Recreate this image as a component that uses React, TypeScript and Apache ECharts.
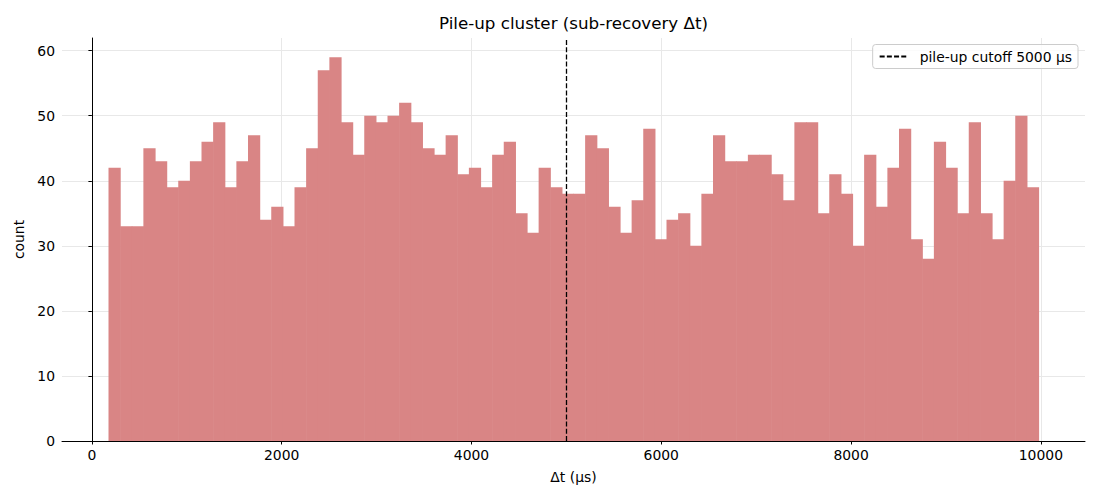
import React, { useEffect, useRef } from "react";
import * as echarts from "echarts";

// Histogram data (80 bins)
const BIN_START = 175;
const BIN_WIDTH = 122.5;
const COUNTS = [
  42, 33, 33, 45, 43, 39, 40, 43, 46, 49,
  39, 43, 47, 34, 36, 33, 39, 45, 57, 59,
  49, 44, 50, 49, 50, 52, 49, 45, 44, 47,
  41, 42, 39, 44, 46, 35, 32, 42, 39, 38,
  38, 47, 45, 36, 32, 37, 48, 31, 34, 35,
  30, 38, 47, 43, 43, 44, 44, 41, 37, 49,
  49, 35, 41, 38, 30, 44, 36, 42, 48, 31,
  28, 46, 42, 35, 49, 35, 31, 40, 50, 39,
];
const X_TICKS = [0, 2000, 4000, 6000, 8000, 10000];
const Y_TICKS = [0, 10, 20, 30, 40, 50, 60];
const CUTOFF = 5000;
const CUTOFF_LABEL = "pile-up cutoff 5000 μs";
const TITLE = "Pile-up cluster (sub-recovery Δt)";
const X_NAME = "Δt (μs)";
const Y_NAME = "count";

const FONT = "DejaVu Sans";
const BAR_COLOR = "#D98585";
const GRID_COLOR = "#e8e8e8";

export default function App() {
  const ref = useRef<HTMLDivElement>(null);

  useEffect(() => {
    if (!ref.current) return;
    const chart = echarts.init(ref.current, undefined, { renderer: "svg" });

    const binData = COUNTS.map((c, i) => [
      BIN_START + i * BIN_WIDTH,
      BIN_START + (i + 1) * BIN_WIDTH,
      c,
    ]);
    const dataMin = BIN_START;
    const dataMax = BIN_START + COUNTS.length * BIN_WIDTH;
    const span = dataMax - dataMin;
    const xMin = dataMin - span * 0.05;
    const xMax = dataMax + span * 0.05;
    const yMax = Math.max(...COUNTS) * 1.05;

    const option: any = {
      animation: false,
      backgroundColor: "#ffffff",
      textStyle: { fontFamily: FONT },
      title: {
        text: TITLE,
        left: 573.5,
        top: 14,
        padding: 0,
        textAlign: "center",
        textStyle: {
          fontFamily: FONT,
          fontSize: 16.7,
          fontWeight: "normal",
          color: "#000",
        },
      },
      legend: {
        right: 22,
        top: 44.5,
        padding: [5, 6, 5, 6],
        itemWidth: 27,
        itemHeight: 14,
        backgroundColor: "rgba(255,255,255,0.8)",
        borderColor: "#cccccc",
        borderWidth: 1,
        borderRadius: 3,
        itemStyle: { opacity: 0, color: "transparent", borderColor: "transparent" },
        textStyle: {
          fontFamily: FONT,
          fontSize: 13.9,
          color: "#000",
          padding: [0, 0, 0, 8],
        },
        data: [CUTOFF_LABEL],
      },
      grid: {
        left: 62,
        right: 15,
        top: 38,
        bottom: 59,
        containLabel: false,
        outerBoundsMode: "none",
      },
      xAxis: {
        type: "value",
        min: xMin,
        max: xMax,
        name: X_NAME,
        nameLocation: "middle",
        nameGap: 29,
        nameTextStyle: { fontFamily: FONT, fontSize: 13.9, color: "#000" },
        axisLine: { show: true, onZero: false, lineStyle: { color: "#000", width: 1 } },
        axisTick: {
          show: true,
          inside: false,
          length: 3.5,
          customValues: X_TICKS,
          lineStyle: { color: "#000", width: 1 },
        },
        axisLabel: {
          customValues: X_TICKS,
          margin: 7,
          fontFamily: FONT,
          fontSize: 13.9,
          color: "#000",
          formatter: (v: number) => String(v),
        },
        splitLine: { show: true, lineStyle: { color: GRID_COLOR, width: 1 } },
      },
      yAxis: {
        type: "value",
        min: 0,
        max: yMax,
        name: Y_NAME,
        nameLocation: "middle",
        nameGap: 34,
        nameTextStyle: { fontFamily: FONT, fontSize: 13.9, color: "#000" },
        axisLine: { show: true, lineStyle: { color: "#000", width: 1 } },
        axisTick: {
          show: true,
          inside: false,
          length: 3.5,
          customValues: Y_TICKS,
          lineStyle: { color: "#000", width: 1 },
        },
        axisLabel: {
          customValues: Y_TICKS,
          margin: 7,
          fontFamily: FONT,
          fontSize: 13.9,
          color: "#000",
          formatter: (v: number) => String(v),
        },
        splitLine: { show: true, lineStyle: { color: GRID_COLOR, width: 1 } },
      },
      series: [
        {
          type: "custom",
          name: "counts",
          data: binData,
          encode: { x: [0, 1], y: 2 },
          renderItem: (params: any, api: any) => {
            const x0 = api.value(0);
            const x1 = api.value(1);
            const c = api.value(2);
            const pTop = api.coord([x0, c]);
            const pBot = api.coord([x1, 0]);
            return {
              type: "rect",
              shape: {
                x: pTop[0],
                y: pTop[1],
                width: pBot[0] - pTop[0] + 0.6,
                height: pBot[1] - pTop[1],
              },
              style: { fill: BAR_COLOR },
            };
          },
          z: 2,
        },
        {
          type: "line",
          name: CUTOFF_LABEL,
          data: [],
          symbol: "none",
          color: "#000",
          lineStyle: { color: "#000", width: 1.3, type: [5, 2.2] },
          markLine: {
            silent: true,
            symbol: "none",
            label: { show: false },
            lineStyle: { color: "#000", width: 1.3, type: [5, 2.2] },
            data: [{ xAxis: CUTOFF }],
          },
          z: 5,
        },
      ],
    };

    chart.setOption(option);
    return () => chart.dispose();
  }, []);

  return (
    <div
      ref={ref}
      style={{ position: "absolute", left: 0, top: 0, width: 1100, height: 500 }}
    />
  );
}
